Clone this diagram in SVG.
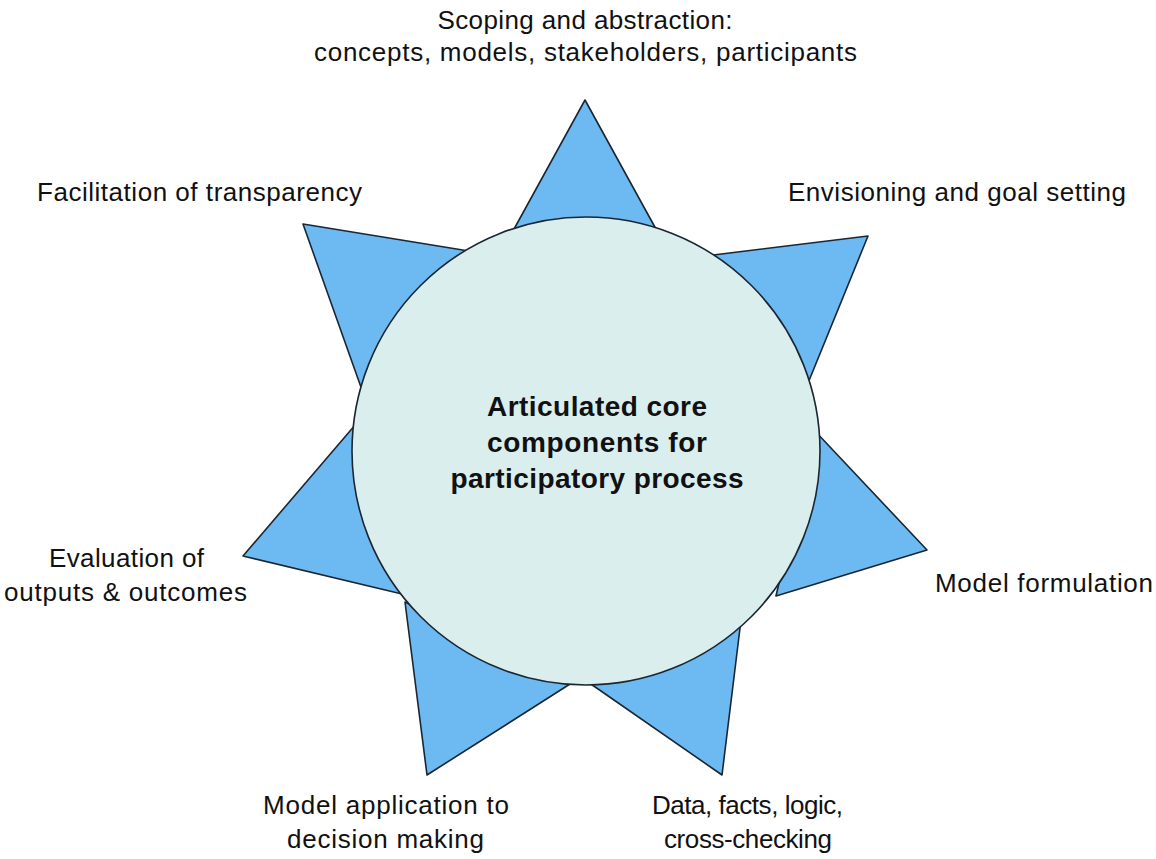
<svg xmlns="http://www.w3.org/2000/svg" width="1156" height="859" viewBox="0 0 1156 859">
<style>
.ray{fill:#6dbaf3;stroke:#1b2633;stroke-width:1.6;stroke-linejoin:round}
.hub{fill:#daeeee;stroke:#1b2633;stroke-width:1.6}
.lbl{font-family:"Liberation Sans",Arial,sans-serif;font-size:26px;fill:#111;text-anchor:middle}
.ctr{font-family:"Liberation Sans",Arial,sans-serif;font-size:28px;font-weight:bold;fill:#111;text-anchor:middle}
</style>
<rect width="1156" height="859" fill="#ffffff"/>
<g id="rays">
<polygon id="ray-top" class="ray" points="585,100 662,240 508,240"/>
<polygon id="ray-upper-left" class="ray" points="303,224 475,252 362,390"/>
<polygon id="ray-upper-right" class="ray" points="868,236 806,388 705,256"/>
<polygon id="ray-right" class="ray" points="927,550 776,596 814,430"/>
<polygon id="ray-bottom-right" class="ray" points="722,775 588,682 741,620"/>
<polygon id="ray-bottom-left" class="ray" points="427,775 405,602 570,684"/>
<polygon id="ray-left" class="ray" points="243,556 356,424 402,594"/>
</g>
<g id="hub">
<circle class="hub" cx="586" cy="451" r="234"/>
<text class="ctr" x="597" y="416" textLength="220">Articulated core</text>
<text class="ctr" x="597" y="452" textLength="220">components for</text>
<text class="ctr" x="597" y="488" textLength="293">participatory process</text>
</g>
<g id="label-scoping">
<text class="lbl" x="585" y="29" textLength="295">Scoping and abstraction:</text>
<text class="lbl" x="585.5" y="61" textLength="543">concepts, models, stakeholders, participants</text>
</g>
<g id="label-facilitation">
<text class="lbl" x="199.5" y="201" textLength="325">Facilitation of transparency</text>
</g>
<g id="label-envisioning">
<text class="lbl" x="957" y="201" textLength="338">Envisioning and goal setting</text>
</g>
<g id="label-evaluation">
<text class="lbl" x="126.5" y="567" textLength="155">Evaluation of</text>
<text class="lbl" x="125.5" y="601" textLength="243">outputs &amp; outcomes</text>
</g>
<g id="label-formulation">
<text class="lbl" x="1044" y="592" textLength="218">Model formulation</text>
</g>
<g id="label-application">
<text class="lbl" x="386" y="814" textLength="246">Model application to</text>
<text class="lbl" x="385.5" y="848" textLength="197">decision making</text>
</g>
<g id="label-data">
<text class="lbl" x="747.5" y="814" textLength="191">Data, facts, logic,</text>
<text class="lbl" x="748" y="848" textLength="168">cross-checking</text>
</g>
</svg>
